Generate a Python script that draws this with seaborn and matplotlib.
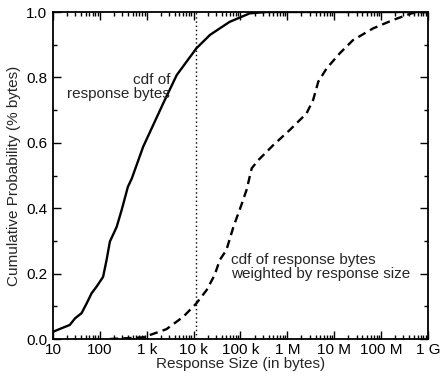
import numpy as np
import pandas as pd
import matplotlib
matplotlib.use("Agg")
import matplotlib.pyplot as plt
import seaborn as sns
from matplotlib.ticker import FixedLocator, LogLocator, NullFormatter, MultipleLocator

# Data (x given as log10 of bytes)
solid_logx = [1.0, 1.185, 1.36, 1.47, 1.61, 1.72, 1.825, 1.93, 2.07, 2.145, 2.215, 2.36, 2.465,
              2.6, 2.68, 2.925, 3.35, 3.64, 4.06, 4.35, 4.77, 5.2, 5.56, 9.0]
solid_y = [0.022, 0.033, 0.043, 0.063, 0.079, 0.109, 0.14, 0.16, 0.19, 0.242, 0.298, 0.343, 0.394,
           0.466, 0.49, 0.588, 0.72, 0.807, 0.889, 0.93, 0.97, 0.996, 1.0, 1.0]

dashed_logx = [2.215, 2.925, 3.42, 3.78, 4.06, 4.28, 4.45, 4.56, 4.70, 4.85, 5.02, 5.13, 5.24,
               5.38, 5.70, 6.05, 6.41, 6.55, 6.66, 6.84, 7.12, 7.40, 7.83, 8.26, 8.65, 8.89, 9.0]
dashed_y = [0.0, 0.005, 0.03, 0.068, 0.109, 0.15, 0.196, 0.242, 0.272, 0.343, 0.41, 0.456, 0.522,
            0.547, 0.593, 0.639, 0.69, 0.731, 0.787, 0.828, 0.874, 0.914, 0.95, 0.976, 0.996, 1.0, 1.0]

cutoff = 11000
xtick_values = [1e1, 1e2, 1e3, 1e4, 1e5, 1e6, 1e7, 1e8, 1e9]
xtick_labels = ["10", "100", "1 k", "10 k", "100 k", "1 M", "10 M", "100 M", "1 G"]

sns.set_style("ticks")
plt.rcParams['font.family'] = ['Liberation Sans', 'DejaVu Sans']

fig = plt.figure(figsize=(4.41, 3.79), dpi=100)
ax = fig.add_axes([0.120, 0.1055, 0.8505, 0.8628])

df_s = pd.DataFrame({"x": 10 ** np.array(solid_logx), "y": solid_y})
df_d = pd.DataFrame({"x": 10 ** np.array(dashed_logx), "y": dashed_y})

sns.lineplot(data=df_s, x="x", y="y", ax=ax, color="black", lw=1.7, estimator=None, sort=False)
sns.lineplot(data=df_d, x="x", y="y", ax=ax, color="black", lw=1.7, estimator=None, sort=False,
             linestyle=(0, (3.5, 2.2)))
ax.axvline(cutoff, color="black", lw=1.0, linestyle=(0, (1, 2)))

ax.set_xscale("log")
ax.set_xlim(10, 1e9)
ax.set_ylim(0, 1.0)
ax.xaxis.set_major_locator(FixedLocator(xtick_values))
ax.set_xticklabels(xtick_labels)
ax.xaxis.set_minor_locator(LogLocator(base=10, subs=np.arange(2, 10)))
ax.xaxis.set_minor_formatter(NullFormatter())
ax.yaxis.set_major_locator(MultipleLocator(0.2))
ax.yaxis.set_minor_locator(MultipleLocator(0.1))
ax.yaxis.set_major_formatter(matplotlib.ticker.FormatStrFormatter("%.1f"))

ax.tick_params(which="both", direction="in", top=True, right=True, width=1.0, colors="black",
               labelsize=11)
ax.tick_params(which="major", length=6)
ax.tick_params(which="minor", length=3)
ax.tick_params(axis="x", pad=3)
ax.tick_params(axis="y", pad=4)
for s in ax.spines.values():
    s.set_linewidth(1.3)
    s.set_color("black")

ax.set_xlabel("Response Size (in bytes)", fontsize=11, labelpad=0)
ax.set_ylabel("Cumulative Probability (% bytes)", fontsize=11, labelpad=4)

ax.text(10 ** 3.5, 0.77, "cdf of\nresponse bytes", ha="right", va="center", fontsize=11,
        linespacing=0.95)
ax.text(10 ** 4.79, 0.22, "cdf of response bytes\nweighted by response size", ha="left",
        va="center", fontsize=11, linespacing=0.95)

fig.savefig("out.png", dpi=100)
